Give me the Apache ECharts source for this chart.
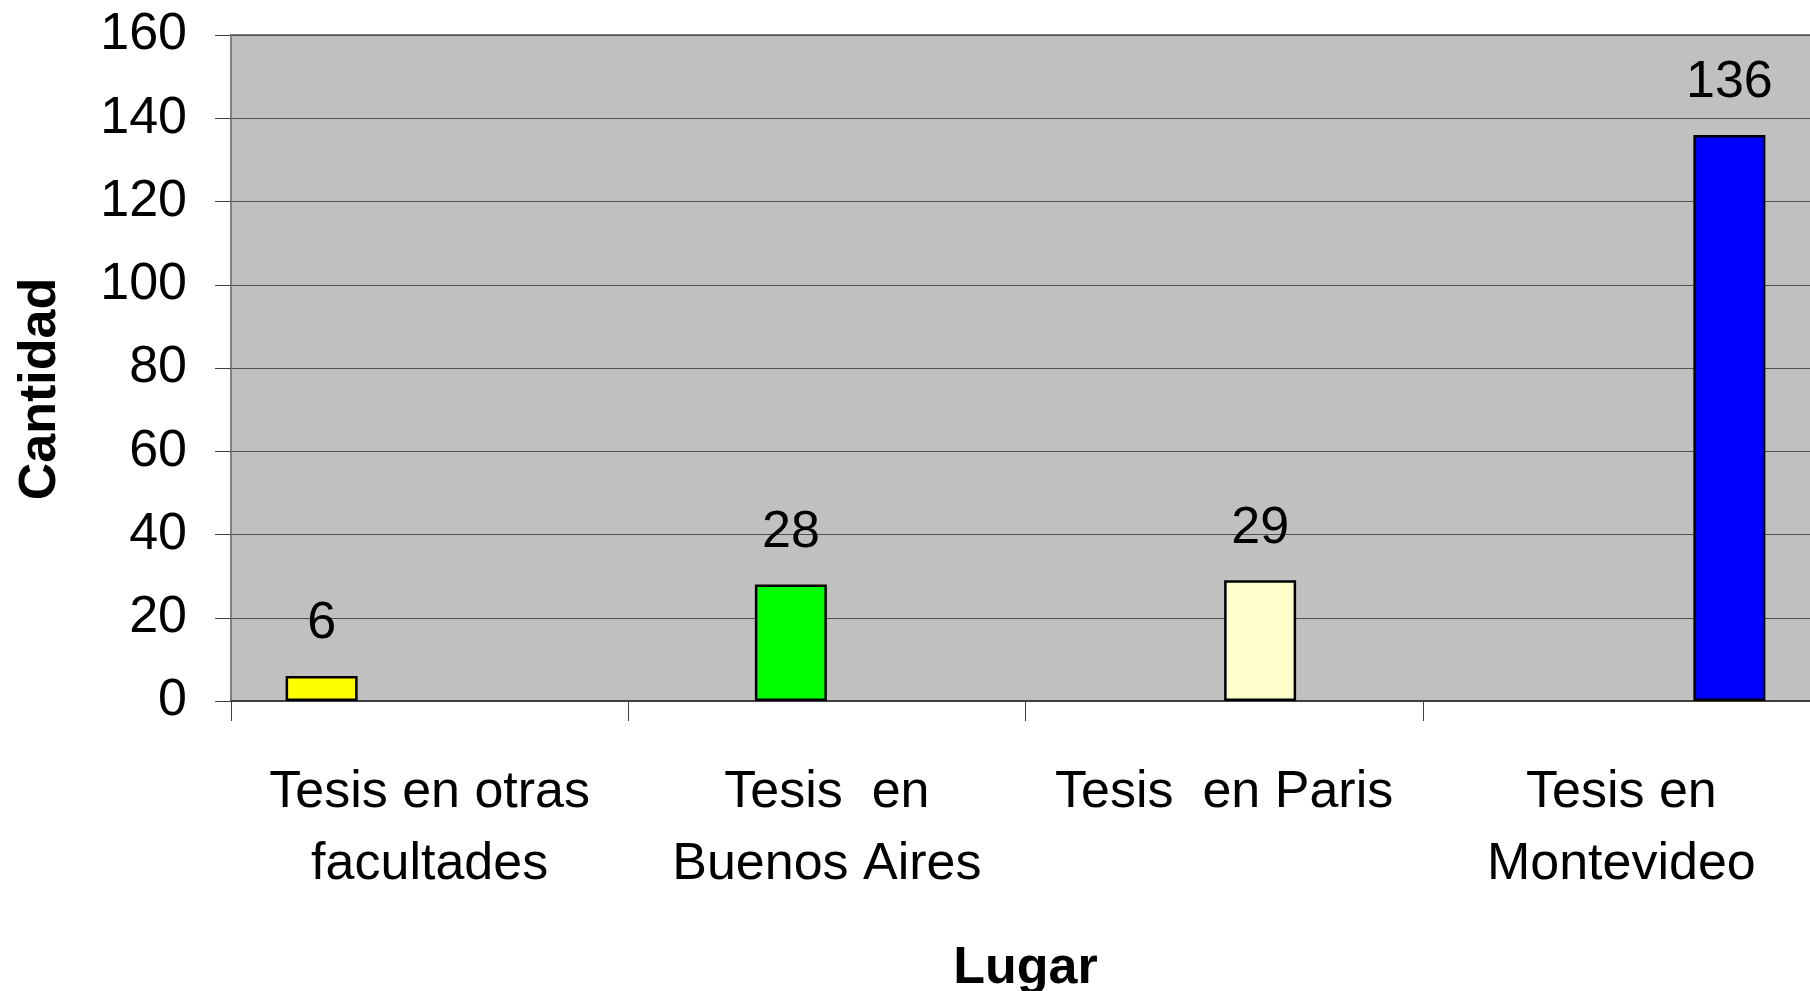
<!DOCTYPE html>
<html>
<head>
<meta charset="utf-8">
<script src="https://cdn.jsdelivr.net/npm/echarts@6/dist/echarts.min.js"></script>
<style>
  html, body { margin: 0; padding: 0; background: #ffffff; }
  #chart { width: 1810px; height: 991px; }
</style>
</head>
<body>
<div id="chart"></div>
<script>
const categories = ['Tesis en otras\nfacultades', 'Tesis  en\nBuenos Aires', 'Tesis  en Paris', 'Tesis en\nMontevideo']
const values = [6, 28, 29, 136]
const barColors = ['#ffff00', '#00ff00', '#ffffcc', '#0000ff']
const yTicks = { min: 0, max: 160, interval: 20 }

const font = "'Liberation Sans', Arial, sans-serif"
const fontSize = 52

const chart = echarts.init(document.getElementById('chart'))

// one series per place, each only holding its own value (like the original clustered layout)
const series = values.map((v, i) => ({
  name: categories[i],
  type: 'bar',
  data: values.map((_, j) => (j === i ? v : '-')),
  barWidth: 72,
  barGap: '0%',
  itemStyle: {
    color: barColors[i],
    borderColor: '#000',
    borderWidth: 2.5
  },
  label: {
    show: true,
    position: 'top',
    distance: 26,
    fontFamily: font,
    fontSize: fontSize,
    color: '#000'
  }
}))

const option = {
  animation: false,
  textStyle: { fontFamily: font },
  grid: {
    left: 231,
    right: -10,
    top: 35,
    bottom: 290,
    outerBoundsMode: 'none',
    containLabel: false,
    show: true,
    backgroundColor: '#c0c0c0',
    borderColor: '#808080',
    borderWidth: 2
  },
  xAxis: {
    type: 'category',
    data: categories,
    name: 'Lugar',
    nameLocation: 'middle',
    nameGap: 242,
    nameTextStyle: {
      fontFamily: font,
      fontSize: fontSize,
      fontWeight: 'bold',
      color: '#000'
    },
    axisLine: { lineStyle: { color: '#404040', width: 2 } },
    axisTick: { show: true, length: 20, lineStyle: { color: '#404040', width: 1 } },
    axisLabel: {
      interval: 0,
      margin: 56,
      fontFamily: font,
      fontSize: fontSize,
      lineHeight: 72,
      color: '#000'
    }
  },
  yAxis: {
    type: 'value',
    min: yTicks.min,
    max: yTicks.max,
    interval: yTicks.interval,
    name: 'Cantidad',
    nameLocation: 'middle',
    nameGap: 164,
    nameRotate: 90,
    nameTextStyle: {
      fontFamily: font,
      fontSize: fontSize,
      fontWeight: 'bold',
      color: '#000',
      padding: [0, 42, 0, 0]
    },
    axisLine: { show: true, lineStyle: { color: '#808080', width: 2 } },
    axisTick: { show: true, length: 16, lineStyle: { color: '#404040', width: 1 } },
    axisLabel: {
      margin: 44,
      fontFamily: font,
      fontSize: fontSize,
      color: '#000'
    },
    splitLine: { lineStyle: { color: '#505050', width: 1 } }
  },
  series: series
}

chart.setOption(option)
</script>
</body>
</html>
